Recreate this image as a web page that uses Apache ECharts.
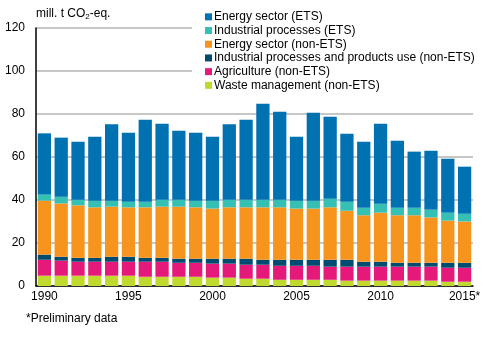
<!DOCTYPE html>
<html><head><meta charset="utf-8">
<script src="https://cdn.jsdelivr.net/npm/echarts@6/dist/echarts.min.js"></script>
<style>html,body{margin:0;padding:0;background:#fff}#c{width:491px;height:340px}</style>
</head><body><div id="c"></div>
<script>
var years = ['1990','1991','1992','1993','1994','1995','1996','1997','1998','1999','2000','2001','2002','2003','2004','2005','2006','2007','2008','2009','2010','2011','2012','2013','2014','2015*'];
var waste      = [4.8,4.8,4.8,4.8,4.8,4.8,4.3,4.3,4.3,4.3,3.9,3.9,3.4,3.4,2.9,2.9,2.9,2.9,2.5,2.5,2.5,2.5,2.5,2.5,2.0,2.0];
var agriculture= [7.4,7.0,6.5,6.5,6.5,6.5,7.0,7.0,6.5,6.5,6.5,6.5,6.5,6.5,6.5,6.5,6.5,6.1,6.5,6.5,6.5,6.5,6.5,6.5,6.5,6.5];
var indNonEts  = [2.4,1.8,1.8,1.8,2.3,2.3,1.8,1.8,1.9,1.9,2.3,2.3,2.8,2.3,2.8,2.8,2.8,3.2,3.2,2.3,2.3,1.8,1.8,1.8,2.3,2.3];
var energyNonEts=[25.1,24.8,24.4,23.5,23.3,23.0,23.5,23.8,24.2,23.9,23.3,23.9,23.9,24.4,24.4,23.8,23.8,24.4,22.8,21.6,22.8,22.1,22.1,21.1,19.6,19.2];
var indEts     = [2.8,3.1,2.6,3.1,2.8,2.6,2.6,3.2,3.2,3.1,3.7,3.5,3.5,3.5,3.5,3.7,3.7,4.0,4.2,3.5,4.2,3.5,3.5,3.6,3.7,3.6];
var energyEts  = [28.5,27.5,27.0,29.7,35.5,32.1,38.1,35.4,32.1,31.6,29.7,35.1,37.2,44.7,41.0,29.7,40.9,38.1,31.6,30.7,37.2,31.2,26.1,27.4,25.1,21.9];
var yTicks = [0,20,40,60,80,100,120];

var FONT = 'Arial, "Liberation Sans", sans-serif';
var names = ['Waste management (non-ETS)','Agriculture (non-ETS)','Industrial processes and products use (non-ETS)','Energy sector (non-ETS)','Industrial processes (ETS)','Energy sector (ETS)'];
var colors = ['#c1d82f','#e4197a','#004b70','#f7941e','#36c0b4','#0071b1'];
var datas = [waste, agriculture, indNonEts, energyNonEts, indEts, energyEts];

var series = names.map(function(n,i){
  return {name:n,type:'bar',stack:'s',data:datas[i],barCategoryGap:'21%',itemStyle:{color:colors[i]},emphasis:{disabled:true}};
});

var chart = echarts.init(document.getElementById('c'));
chart.setOption({
  animation:false,
  textStyle:{fontFamily:FONT},
  grid:{left:36,right:18,top:28,bottom:54,containLabel:false},
  legend:{
    orient:'vertical', left:192, top:8, padding:[2,5,2,13],
    backgroundColor:'#fff', itemWidth:7, itemHeight:7, itemGap:0,
    icon:'rect',
    data:names.slice().reverse(),
    textStyle:{fontFamily:FONT,fontSize:12,color:'#000',lineHeight:13.7,padding:[0,0,0,-3]}
  },
  xAxis:{
    type:'category', data:years,
    axisLine:{lineStyle:{color:'#000',width:1.5}},
    axisTick:{show:false},
    axisLabel:{fontFamily:FONT,fontSize:12,color:'#000',margin:5,
      interval:function(i){return i%5===0;}}
  },
  yAxis:{
    type:'value', min:yTicks[0], max:yTicks[yTicks.length-1], interval:20,
    axisLine:{show:true,lineStyle:{color:'#000',width:1.5}},
    axisTick:{show:false},
    splitLine:{lineStyle:{color:'#b4b4b4',width:1.5}},
    axisLabel:{fontFamily:FONT,fontSize:12,color:'#000',margin:11}
  },
  graphic:[
    {type:'text',left:36,top:8,style:{rich:{a:{fontFamily:FONT,fontSize:12,fill:'#000'},s:{fontFamily:FONT,fontSize:8,fill:'#000',verticalAlign:'bottom',padding:[6,0,0,0]}},text:'{a|mill. t CO}{s|2}{a|-eq.}'}},
    {type:'text',left:26,top:313,style:{text:'*Preliminary data',fontFamily:FONT,fontSize:12,fill:'#000'}}
  ],
  series:series
});
</script></body></html>
